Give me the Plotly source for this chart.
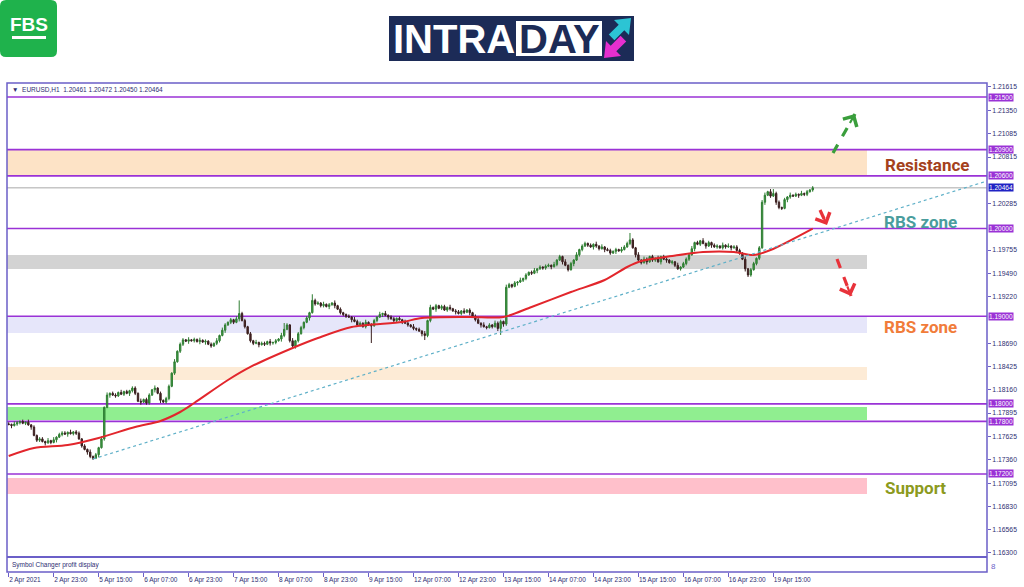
import plotly.graph_objects as go

# ---------------- data ----------------
x_labels = ["2 Apr 2021", "2 Apr 23:00", "5 Apr 15:00", "6 Apr 07:00", "6 Apr 23:00",
            "7 Apr 15:00", "8 Apr 07:00", "8 Apr 23:00", "9 Apr 15:00", "12 Apr 07:00",
            "12 Apr 23:00", "13 Apr 15:00", "14 Apr 07:00", "14 Apr 23:00", "15 Apr 15:00",
            "16 Apr 07:00", "16 Apr 23:00", "19 Apr 15:00"]
x_label_bars = [0, 16, 32, 48, 64, 80, 96, 112, 128, 144, 160, 176, 192, 208, 224, 240, 256, 272]

y_ticks = [1.16300, 1.16565, 1.16830, 1.17095, 1.17360, 1.17625, 1.17895, 1.18160, 1.18425,
           1.18690, 1.19220, 1.19490, 1.19755, 1.20285, 1.20815, 1.21085,
           1.21350, 1.21615]

first_open = 1.17770
closes = [
    1.17765, 1.17752, 1.17770, 1.17785, 1.17800, 1.17778, 1.17790, 1.17760, 1.17735,
    1.17640, 1.17585,
    1.17600, 1.17570, 1.17555, 1.17580, 1.17560, 1.17590, 1.17620,
    1.17650, 1.17668, 1.17655, 1.17675, 1.17660, 1.17680, 1.17665,
    1.17600, 1.17520, 1.17480, 1.17450, 1.17400, 1.17380,
    1.17420, 1.17500, 1.17600,
    1.17960, 1.18100,
    1.18120, 1.18100, 1.18090, 1.18130, 1.18110, 1.18140, 1.18120, 1.18150,
    1.18180, 1.18120,
    1.18030, 1.18020, 1.18050, 1.18010,
    1.18100, 1.18160, 1.18180, 1.18120,
    1.18040, 1.18020, 1.18060,
    1.18200, 1.18350, 1.18480, 1.18600, 1.18680, 1.18730,
    1.18715, 1.18730, 1.18720, 1.18735, 1.18710, 1.18725, 1.18705, 1.18715,
    1.18680, 1.18660, 1.18690, 1.18720,
    1.18780, 1.18840, 1.18900, 1.18930, 1.18960,
    1.18930, 1.18970, 1.19030,
    1.18950, 1.18880, 1.18800, 1.18720,
    1.18690, 1.18700, 1.18675, 1.18690, 1.18680, 1.18710, 1.18695,
    1.18700, 1.18720, 1.18740, 1.18780, 1.18850,
    1.18900, 1.18720,
    1.18660, 1.18720, 1.18800, 1.18870, 1.18930, 1.18980, 1.19040,
    1.19180,
    1.19140, 1.19150, 1.19120, 1.19135, 1.19110, 1.19130, 1.19150, 1.19120,
    1.19080, 1.19040, 1.19020, 1.19000, 1.18990, 1.18960,
    1.18940, 1.18900, 1.18920, 1.18880, 1.18930, 1.18900, 1.18890,
    1.18950, 1.18990, 1.19020, 1.19030, 1.19010,
    1.18990, 1.18970, 1.18950, 1.18975, 1.18960,
    1.18940, 1.18920, 1.18900, 1.18880, 1.18860, 1.18850, 1.18830, 1.18800,
    1.18780,
    1.18950, 1.19100, 1.19080, 1.19120, 1.19090, 1.19110, 1.19070, 1.19100, 1.19085, 1.19060,
    1.19050, 1.19030, 1.19060, 1.19045, 1.19070, 1.19040,
    1.19000, 1.18960, 1.18920, 1.18900, 1.18880, 1.18870,
    1.18900, 1.18880, 1.18920, 1.18860, 1.18940, 1.18910,
    1.19330,
    1.19360, 1.19340, 1.19380, 1.19390, 1.19410, 1.19430,
    1.19470, 1.19500, 1.19490, 1.19520,
    1.19540, 1.19560, 1.19550, 1.19570, 1.19580, 1.19565, 1.19590,
    1.19640, 1.19680, 1.19620, 1.19580, 1.19530,
    1.19600, 1.19640, 1.19700, 1.19760, 1.19800, 1.19830,
    1.19810, 1.19790, 1.19820, 1.19800, 1.19770, 1.19790, 1.19760, 1.19750,
    1.19720,
    1.19740, 1.19760, 1.19745, 1.19760, 1.19790, 1.19830, 1.19870,
    1.19780, 1.19700, 1.19640, 1.19610,
    1.19650, 1.19620, 1.19680, 1.19640, 1.19660, 1.19620, 1.19680, 1.19650, 1.19640, 1.19610, 1.19620,
    1.19580, 1.19540, 1.19560, 1.19600,
    1.19650, 1.19700, 1.19770,
    1.19840, 1.19820, 1.19860, 1.19830, 1.19800, 1.19840, 1.19810, 1.19790,
    1.19800, 1.19780, 1.19810, 1.19790, 1.19800, 1.19780, 1.19790,
    1.19750, 1.19720,
    1.19650, 1.19540, 1.19470,
    1.19530, 1.19600, 1.19660,
    1.19780, 1.20300,
    1.20380, 1.20420, 1.20370, 1.20400,
    1.20300, 1.20240, 1.20230,
    1.20330, 1.20360, 1.20380, 1.20370, 1.20390, 1.20380, 1.20400, 1.20390, 1.20420, 1.20440, 1.20464,
]

# wick lengths in units of 0.0001 (one digit per bar)
wick_up = ("2132121312 1221313122 2131221213 1213131221 3121221312 2131212213 1221312131 "
           "2121313212 1312212131 2213121312 1312212132 2131213121 1213221312 2131312212 "
           "1221312131 3121221312 2131212213 1213221321 2131212312 1221312131 2131221213 "
           "1312212132 2121313212 1312212131 2213121312 1221313122 2131221213 1312212131 2131212")
wick_dn = ("1312212131 2213121312 1312212132 2131213121 1213221312 2131312212 1221312131 "
           "3121221312 2131212213 1213221321 2132121312 1221313122 2131221213 1213131221 "
           "3121221312 2131212213 1221312131 2121313212 1312212131 2213121312 1312212132 "
           "2131213121 1213221312 2131312212 1221312131 3121221312 2131212213 1213221321 1312212")
high_spikes = {44: 1.18200, 82: 1.19180, 98: 1.18922, 108: 1.19250, 221: 1.19949,
               268: 1.20325, 272: 1.20450}
low_spikes = {30: 1.17360, 101: 1.18648, 129: 1.18694, 148: 1.18728, 175: 1.18786,
              263: 1.19447, 275: 1.20211}

ma_bars = [0, 9, 21, 32, 45, 54, 61, 66, 78, 86, 101, 110, 122, 140, 147, 164, 176, 186,
           200, 212, 220, 225, 236, 247, 258, 265, 271, 286]
ma_vals = [1.17405, 1.17496, 1.17531, 1.17611, 1.17736, 1.17805, 1.17907, 1.18010, 1.18272,
           1.18421, 1.18637, 1.18751, 1.18877, 1.18934, 1.18979, 1.18991, 1.18991, 1.19105,
           1.19276, 1.19413, 1.19561, 1.19629, 1.19686, 1.19732, 1.19732, 1.19698, 1.19755,
           1.20000]

trend_bars = [30, 348]
trend_vals = [1.17371, 1.20542]

level_lines = [1.21500, 1.20900, 1.20600, 1.20000, 1.19000, 1.18000, 1.17800, 1.17200]
last_price = 1.20464

zone_lo = [1.20600, 1.19538, 1.18808, 1.18272, 1.17816, 1.16972]
zone_hi = [1.20900, 1.19698, 1.18997, 1.18420, 1.17964, 1.17154]
zone_colors = ["#fde3c6", "#d3d3d3", "#e6e6fa", "#fdebd6", "#90ee90", "#ffc0cb"]

# ---------------- build candles ----------------
n = len(closes)
idx = list(range(n))
opens = [first_open] + closes[:-1]
wu = [int(c) for c in wick_up if c.isdigit()]
wd = [int(c) for c in wick_dn if c.isdigit()]
highs, lows = [], []
for i in range(n):
    o, c = opens[i], closes[i]
    u = wu[i] if i < len(wu) else 2
    d = wd[i] if i < len(wd) else 2
    highs.append(high_spikes.get(i, max(o, c) + u * 0.0001))
    lows.append(low_spikes.get(i, min(o, c) - d * 0.0001))

FRAME = "#6b5fc8"
LEVEL = "#9a32d6"
TXT = "#2e2e72"

# pixel -> paper helpers (plot area: x 7..987, y 83..572)
def PX(x):
    return (x - 7) / 980.0

def PY(y):
    return (572 - y) / 489.0

fig = go.Figure()

fig.add_trace(go.Candlestick(
    x=idx, open=opens, high=highs, low=lows, close=closes,
    increasing=dict(line=dict(color="#2f7d32", width=1), fillcolor="#3fa047"),
    decreasing=dict(line=dict(color="#3a1f1f", width=1), fillcolor="#4a2222"),
    whiskerwidth=0, hoverinfo="skip", showlegend=False))

fig.add_trace(go.Scatter(x=ma_bars, y=ma_vals, mode="lines",
                         line=dict(color="#e2262c", width=2, shape="spline", smoothing=0.8),
                         hoverinfo="skip", showlegend=False))

fig.add_trace(go.Scatter(x=trend_bars, y=trend_vals, mode="lines",
                         line=dict(color="#5fb0c8", width=1.2, dash="dot"),
                         hoverinfo="skip", showlegend=False))

shapes = []
for lo, hi, col in zip(zone_lo, zone_hi, zone_colors):
    shapes.append(dict(type="rect", xref="paper", yref="y", x0=0, x1=PX(867), y0=lo, y1=hi,
                       fillcolor=col, line=dict(width=0), layer="below"))
shapes.append(dict(type="line", xref="paper", yref="y", x0=0, x1=1, y0=last_price, y1=last_price,
                   line=dict(color="#a8a8a8", width=1), layer="below"))
for lv in level_lines:
    shapes.append(dict(type="line", xref="paper", yref="y", x0=0, x1=1, y0=lv, y1=lv,
                       line=dict(color=LEVEL, width=1.6), layer="below"))
shapes.append(dict(type="rect", xref="paper", yref="paper", x0=0, x1=1, y0=0, y1=1,
                   line=dict(color=FRAME, width=1.5)))
shapes.append(dict(type="line", xref="paper", yref="paper", x0=0, x1=1, y0=PY(557), y1=PY(557),
                   line=dict(color=FRAME, width=2)))

arrows = [((833, 153), (855, 114), "#3a9e3c"),
          ((820, 210), (827, 225), "#e8323a"),
          ((837, 259), (851, 296), "#e8323a")]
for (sx, sy), (ex, ey), col in arrows:
    shapes.append(dict(type="line", xref="paper", yref="paper", x0=PX(sx), y0=PY(sy),
                       x1=PX(ex), y1=PY(ey), line=dict(color=col, width=3.2, dash="dash")))

def rrect(x0, y0, x1, y1, r):
    return (f"M {PX(x0 + r)},{PY(y0)} L {PX(x1 - r)},{PY(y0)} Q {PX(x1)},{PY(y0)} {PX(x1)},{PY(y0 + r)} "
            f"L {PX(x1)},{PY(y1 - r)} Q {PX(x1)},{PY(y1)} {PX(x1 - r)},{PY(y1)} "
            f"L {PX(x0 + r)},{PY(y1)} Q {PX(x0)},{PY(y1)} {PX(x0)},{PY(y1 - r)} "
            f"L {PX(x0)},{PY(y0 + r)} Q {PX(x0)},{PY(y0)} {PX(x0 + r)},{PY(y0)} Z")

def poly(pts):
    return "M " + " L ".join(f"{PX(x)},{PY(y)}" for x, y in pts) + " Z"

def prect(x0, y0, x1, y1, col):
    return dict(type="rect", xref="paper", yref="paper", x0=PX(x0), x1=PX(x1), y0=PY(y1), y1=PY(y0),
                fillcolor=col, line=dict(width=0))

shapes.append(dict(type="path", xref="paper", yref="paper", path=rrect(0, 0, 57, 57, 6),
                   fillcolor="#1fb24c", line=dict(width=0)))
shapes.append(prect(12, 36, 46, 39, "white"))
shapes.append(prect(389, 16, 634, 61, "#1c2b57"))
shapes.append(prect(516, 21, 602, 56, "white"))
shapes.append(dict(type="path", xref="paper", yref="paper",
                   path=poly([(631, 18), (629, 35), (624.3, 30.3), (614.4, 40.2), (608.8, 34.6),
                              (618.7, 24.7), (614, 20)]),
                   fillcolor="#2cc4d4", line=dict(width=0)))
shapes.append(dict(type="path", xref="paper", yref="paper",
                   path=poly([(604, 58), (606, 41), (610.7, 45.7), (620.6, 35.8), (626.2, 41.4),
                              (616.3, 51.3), (621, 56)]),
                   fillcolor="#e62fcf", line=dict(width=0)))

annotations = []
annotations.append(dict(xref="paper", yref="paper", x=PX(10), y=PY(89), xanchor="left", yanchor="middle",
                        text="▼  EURUSD,H1  1.20461 1.20472 1.20450 1.20464", showarrow=False,
                        font=dict(family="Liberation Sans", size=6.5, color=TXT)))
annotations.append(dict(xref="paper", yref="paper", x=PX(10), y=PY(565), xanchor="left", yanchor="middle",
                        text="Symbol Changer profit display", showarrow=False,
                        font=dict(family="Liberation Sans", size=6.5, color=TXT)))
annotations.append(dict(xref="paper", yref="paper", x=PX(989), y=PY(566), xanchor="left", yanchor="middle",
                        text="8", showarrow=False,
                        font=dict(family="Liberation Sans", size=8, color=FRAME)))
for txt, cx, cy, col in [("Resistance", 927, 165, "#a4411c"), ("RBS zone", 920, 222, "#4a9d9d"),
                         ("RBS zone", 920, 327, "#f17c3a"), ("Support", 915, 488, "#8c9a1d")]:
    annotations.append(dict(xref="paper", yref="paper", x=PX(cx), y=PY(cy), xanchor="center",
                            yanchor="middle", text=f"<b>{txt}</b>", showarrow=False,
                            font=dict(family="Roboto", size=17, color=col)))
for lv in level_lines:
    annotations.append(dict(xref="paper", yref="y", x=1, y=lv, xanchor="left", yanchor="middle",
                            xshift=1, text=f"{lv:.5f}", showarrow=False, bgcolor=LEVEL, borderpad=0,
                            font=dict(family="Liberation Sans", size=6.5, color="white")))
annotations.append(dict(xref="paper", yref="y", x=1, y=last_price, xanchor="left", yanchor="middle",
                        xshift=1, text=f"{last_price:.5f}", showarrow=False, bgcolor="#1f22c4",
                        borderpad=0, font=dict(family="Liberation Sans", size=6.5, color="white")))
for (sx, sy), (ex, ey), col in arrows:
    dx, dy = sx - ex, sy - ey
    L = (dx * dx + dy * dy) ** 0.5
    annotations.append(dict(xref="paper", yref="paper", x=PX(ex), y=PY(ey), ax=dx / L * 12, ay=dy / L * 12,
                            text="", showarrow=True, arrowhead=4, arrowsize=1.4, arrowwidth=2.2,
                            arrowcolor=col, standoff=0))
annotations.append(dict(xref="paper", yref="paper", x=PX(29), y=PY(25), xanchor="center", yanchor="middle",
                        text="<b>FBS</b>", showarrow=False,
                        font=dict(family="Liberation Sans", size=19, color="white")))
annotations.append(dict(xref="paper", yref="paper", x=PX(454), y=PY(39), xanchor="center", yanchor="middle",
                        text="<b>INTRA</b>", showarrow=False,
                        font=dict(family="Liberation Sans", size=40, color="white")))
annotations.append(dict(xref="paper", yref="paper", x=PX(559), y=PY(39), xanchor="center", yanchor="middle",
                        text="<b>DAY</b>", showarrow=False,
                        font=dict(family="Liberation Sans", size=40, color="#1c2b57")))

fig.update_layout(
    width=1024, height=587,
    margin=dict(l=7, r=37, t=83, b=15, autoexpand=False),
    paper_bgcolor="white", plot_bgcolor="white",
    showlegend=False,
    xaxis=dict(range=[-0.6, 348], anchor="free", position=0, automargin=False,
               tickmode="array", tickvals=x_label_bars, ticktext=x_labels,
               ticks="outside", ticklen=4, tickcolor=FRAME, tickangle=0,
               ticklabelposition="outside right", ticklabelstandoff=1,
               tickfont=dict(family="Liberation Sans", size=6.5, color=TXT),
               showgrid=False, zeroline=False, showline=False,
               rangeslider=dict(visible=False)),
    yaxis=dict(domain=[PY(557), 1], range=[1.16253, 1.21660], side="right", automargin=False,
               tickmode="array", tickvals=y_ticks, ticktext=[f"{v:.5f}" for v in y_ticks],
               ticks="outside", ticklen=3, tickcolor=FRAME,
               tickfont=dict(family="Liberation Sans", size=6.8, color=TXT),
               showgrid=False, zeroline=False, showline=False),
    shapes=shapes, annotations=annotations,
)

fig.write_html("out.html", config={"displayModeBar": False},
               post_script="document.body.style.margin='0';document.body.style.overflow='hidden';")
